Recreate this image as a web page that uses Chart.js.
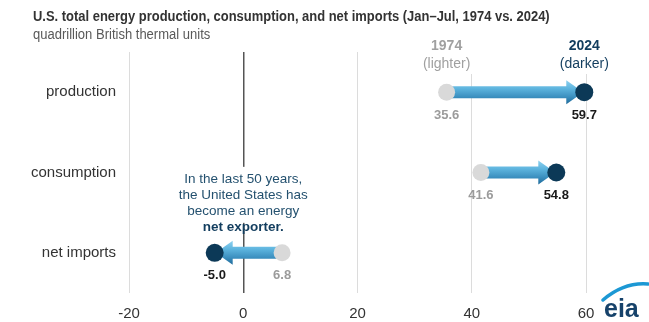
<!DOCTYPE html>
<html><head><meta charset="utf-8">
<script src="https://cdn.jsdelivr.net/npm/chart.js@4.4.0/dist/chart.umd.min.js"></script>
<style>html,body{margin:0;padding:0;background:#fff;overflow:hidden}#wrap{width:649px;height:322px;position:relative}</style>
</head><body><div id="wrap"><canvas id="c" width="649" height="322"></canvas></div>
<script>
const categories = ['production', 'consumption', 'net imports'];
const values1974 = [35.6, 41.6, 6.8];
const values2024 = [59.7, 54.8, -5.0];
const xTickValues = [-20, 0, 20, 40, 60];
const titleText = 'U.S. total energy production, consumption, and net imports (Jan\u2013Jul, 1974 vs. 2024)';
const subtitleText = 'quadrillion British thermal units';
const noteLines = ['In the last 50 years,', 'the United States has', 'become an energy', 'net exporter.'];

const FONT = '"Liberation Sans", Arial, sans-serif';

const arrowPlugin = {
  id: 'arrows',
  beforeDatasetsDraw(chart) {
    const {ctx, scales: {x, y}} = chart;
    ctx.save();
    categories.forEach((c, i) => {
      const x1 = x.getPixelForValue(values1974[i]);
      const x2 = x.getPixelForValue(values2024[i]);
      const yc = y.getPixelForValue(i);
      const dir = x2 > x1 ? 1 : -1;
      const headLen = 17, headHalf = 12, shaftHalf = 6;
      const tip = x2 - dir * 1;
      const hb = tip - dir * headLen;
      const g = ctx.createLinearGradient(0, yc - headHalf, 0, yc + headHalf);
      g.addColorStop(0, '#8fd2f0');
      g.addColorStop(0.35, '#5db4de');
      g.addColorStop(0.7, '#3b8fbf');
      g.addColorStop(1, '#1f6a99');
      ctx.fillStyle = g;
      ctx.beginPath();
      ctx.moveTo(x1, yc - shaftHalf);
      ctx.lineTo(hb, yc - shaftHalf);
      ctx.lineTo(hb, yc - headHalf);
      ctx.lineTo(tip, yc);
      ctx.lineTo(hb, yc + headHalf);
      ctx.lineTo(hb, yc + shaftHalf);
      ctx.lineTo(x1, yc + shaftHalf);
      ctx.closePath();
      ctx.fill();
    });
    ctx.restore();
  }
};

const textPlugin = {
  id: 'texts',
  afterDatasetsDraw(chart) {
    const {ctx, scales: {x, y}} = chart;
    ctx.save();
    // title & subtitle (slightly condensed like the reference)
    ctx.textAlign = 'left';
    ctx.textBaseline = 'middle';
    ctx.save();
    ctx.translate(33, 17);
    ctx.scale(0.925, 1);
    ctx.fillStyle = '#333333';
    ctx.font = 'bold 14px ' + FONT;
    ctx.fillText(titleText, 0, 0);
    ctx.restore();
    ctx.save();
    ctx.translate(33, 35);
    ctx.scale(0.93, 1);
    ctx.fillStyle = '#595959';
    ctx.font = '14px ' + FONT;
    ctx.fillText(subtitleText, 0, 0);
    ctx.restore();

    // value labels
    ctx.textAlign = 'center';
    ctx.font = 'bold 13px ' + FONT;
    categories.forEach((c, i) => {
      const yc = y.getPixelForValue(i);
      ctx.fillStyle = '#9b9b9b';
      ctx.fillText(values1974[i].toFixed(1), x.getPixelForValue(values1974[i]), yc + 23);
      ctx.fillStyle = '#1a1a1a';
      ctx.fillText(values2024[i].toFixed(1), x.getPixelForValue(values2024[i]), yc + 23);
    });

    // headers above the first row
    const hx1 = x.getPixelForValue(values1974[0]);
    const hx2 = x.getPixelForValue(values2024[0]);
    ctx.fillStyle = '#ffffff';
    ctx.fillRect(hx1 - 32, 38, 64, 36);
    ctx.fillRect(hx2 - 32, 38, 64, 36);
    ctx.font = 'bold 14px ' + FONT;
    ctx.fillStyle = '#a0a0a0';
    ctx.fillText('1974', hx1, 46);
    ctx.fillStyle = '#123d5e';
    ctx.fillText('2024', hx2, 46);
    ctx.font = '14px ' + FONT;
    ctx.fillStyle = '#a0a0a0';
    ctx.fillText('(lighter)', hx1, 64);
    ctx.fillStyle = '#123d5e';
    ctx.fillText('(darker)', hx2, 64);

    // annotation
    const ax = x.getPixelForValue(0);
    const yNet = y.getPixelForValue(2);
    ctx.fillStyle = '#ffffff';
    ctx.fillRect(ax - 68, yNet - 86, 136, 56);
    ctx.font = '13.5px ' + FONT;
    ctx.fillStyle = '#24516f';
    ctx.fillText(noteLines[0], ax, yNet - 74);
    ctx.fillText(noteLines[1], ax, yNet - 58);
    ctx.fillText(noteLines[2], ax, yNet - 42);
    ctx.font = 'bold 13.5px ' + FONT;
    ctx.fillStyle = '#123d5e';
    ctx.fillText(noteLines[3], ax, yNet - 26);

    // eia logo
    ctx.strokeStyle = '#1c98d4';
    ctx.lineWidth = 3.5;
    ctx.lineCap = 'round';
    ctx.beginPath();
    ctx.moveTo(603, 300);
    ctx.quadraticCurveTo(624, 282, 648, 284);
    ctx.stroke();
    ctx.textAlign = 'left';
    ctx.textBaseline = 'alphabetic';
    ctx.font = 'bold 25px ' + FONT;
    ctx.fillStyle = '#16426a';
    ctx.fillText('eia', 604, 317);
    ctx.restore();
  }
};

new Chart(document.getElementById('c'), {
  type: 'scatter',
  data: {
    labels: categories,
    datasets: [
      {
        label: '1974',
        data: values1974.map((v, i) => ({x: v, y: categories[i]})),
        backgroundColor: '#d9d9d9',
        borderWidth: 0,
        pointRadius: 8.5,
        pointHoverRadius: 8.5,
        clip: false
      },
      {
        label: '2024',
        data: values2024.map((v, i) => ({x: v, y: categories[i]})),
        backgroundColor: '#0c3957',
        borderWidth: 0,
        pointRadius: 9,
        pointHoverRadius: 9,
        clip: false
      }
    ]
  },
  options: {
    responsive: false,
    devicePixelRatio: 1,
    animation: false,
    events: [],
    layout: {padding: {top: 52, right: 63, left: 0, bottom: 0}},
    plugins: {legend: {display: false}, tooltip: {enabled: false}},
    scales: {
      x: {
        type: 'linear',
        min: -20,
        max: 60,
        afterBuildTicks: (s) => { s.ticks = xTickValues.map(v => ({value: v})); },
        afterFit: (s) => { s.height = 29; },
        ticks: {font: {family: FONT, size: 15}, color: '#333333', padding: 12, maxRotation: 0},
        grid: {
          drawTicks: false,
          color: (c) => (c.tick && c.tick.value === 0) ? '#555555' : '#dcdcdc',
          lineWidth: (c) => (c.tick && c.tick.value === 0) ? 1.5 : 1
        },
        border: {display: false}
      },
      y: {
        type: 'category',
        labels: categories,
        offset: true,
        afterFit: (s) => { s.width = 129; },
        ticks: {font: {family: FONT, size: 15}, color: '#333333', padding: 13},
        grid: {display: false, drawTicks: false},
        border: {display: false}
      }
    }
  },
  plugins: [arrowPlugin, textPlugin]
});
</script>
</body></html>
